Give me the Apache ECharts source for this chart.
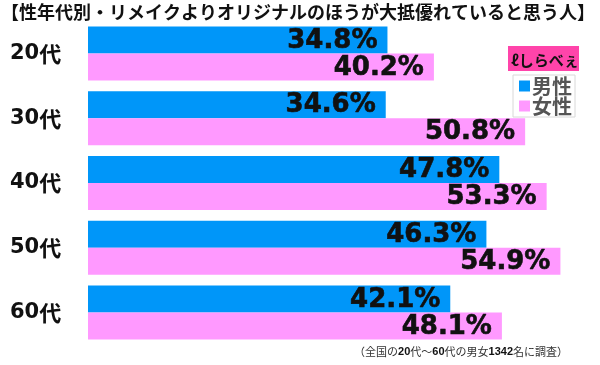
<!DOCTYPE html>
<html><head><meta charset="utf-8">
<script src="https://cdn.jsdelivr.net/npm/echarts@6/dist/echarts.min.js"></script>
<style>html,body{margin:0;padding:0;background:#fff}#c{width:600px;height:365px}</style>
</head><body><div id="c"></div>
<script>
const titleText = '【性年代別・リメイクよりオリジナルのほうが大抵優れていると思う人】';
const categories = ['20代', '30代', '40代', '50代', '60代'];
const seriesNames = ['男性', '女性'];
const maleValues = [34.8, 34.6, 47.8, 46.3, 42.1];
const femaleValues = [40.2, 50.8, 53.3, 54.9, 48.1];
const blue = '#0096F9', pink = '#FF99FF';
const JP = '"Noto Sans CJK JP", "Liberation Sans", sans-serif';
const NUM = '"DejaVu Sans", "Liberation Sans", sans-serif';
const NOTE_NUM = '"Liberation Sans", Arial, sans-serif';

const chart = echarts.init(document.getElementById('c'), null, {renderer: 'canvas'});
const valLabel = {
  show: true, position: 'insideRight', distance: 10, offset: [0, 1],
  formatter: p => p.value.toFixed(1) + '%',
  fontFamily: NUM, fontWeight: 'bold', fontSize: 26, color: '#111',
  textBorderColor: '#111', textBorderWidth: 0.6
};
chart.setOption({
  animation: false,
  title: {
    text: titleText, left: 1, top: 3, padding: 0,
    textStyle: {fontFamily: JP, fontWeight: 'bold', fontSize: 18, color: '#111'}
  },
  legend: {
    data: seriesNames, orient: 'vertical', left: 513, top: 75,
    icon: 'rect', itemWidth: 11, itemHeight: 11, itemGap: 0,
    padding: [1, 3, 1, 6], borderColor: '#d8d8d8', borderWidth: 1,
    textStyle: {fontFamily: JP, fontWeight: 'bold', fontSize: 20, lineHeight: 20, color: '#555', padding: [0, 0, 0, -3]}
  },
  grid: {left: 88, right: 0, top: 21, bottom: 20},
  xAxis: {type: 'value', min: 0, max: 59.5, show: false},
  yAxis: {
    type: 'category', data: categories, inverse: true,
    axisLine: {show: false}, axisTick: {show: false},
    axisLabel: {
      align: 'left', margin: 78,
      formatter: v => '{d|' + v.replace('代', '') + '}{k|代}',
      rich: {
        d: {fontFamily: NUM, fontWeight: 'bold', fontSize: 21, color: '#111'},
        k: {fontFamily: JP, fontWeight: 'bold', fontSize: 22, color: '#111'}
      }
    }
  },
  graphic: [
    {type: 'rect', shape: {x: 508, y: 46, width: 71, height: 25}, style: {fill: '#FF44AA'}},
    {type: 'text', style: {x: 511, y: 60, text: 'ℓしらべぇ', fontFamily: JP, fontWeight: 'bold', fontSize: 15, fill: '#111', verticalAlign: 'middle'}},
    {type: 'text', style: {x: 568, y: 352, align: 'right', verticalAlign: 'middle',
      text: '{n|（全国の}{b|20}{n|代～}{b|60}{n|代の男女}{b|1342}{n|名に調査）}',
      rich: {
        n: {fontFamily: JP, fontSize: 11, fill: '#333'},
        b: {fontFamily: NOTE_NUM, fontSize: 11, fontWeight: 'bold', fill: '#111'}
      }}}
  ],
  series: [
    {name: seriesNames[0], type: 'bar', data: maleValues, barWidth: 27, barGap: '0%',
     itemStyle: {color: blue}, label: valLabel},
    {name: seriesNames[1], type: 'bar', data: femaleValues, barWidth: 27, barGap: '0%',
     itemStyle: {color: pink}, label: valLabel}
  ]
});
</script></body></html>
